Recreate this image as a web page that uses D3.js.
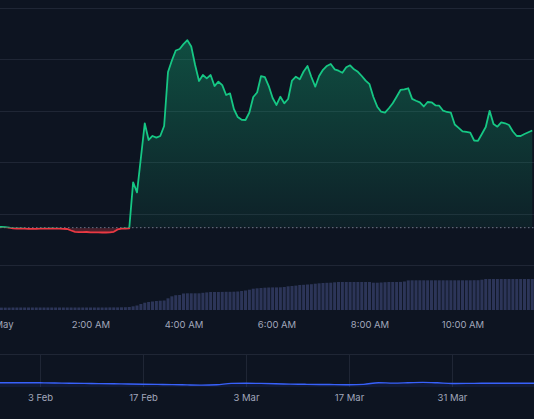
<!DOCTYPE html>
<html>
<head>
<meta charset="utf-8">
<script src="https://cdn.jsdelivr.net/npm/d3@7"></script>
<style>
  html, body { margin: 0; padding: 0; background: #0d1421; }
  svg { display: block; }
</style>
</head>
<body>
<svg id="chart"></svg>
<script>
// chart data, 5 minute steps from midnight
const startTime = new Date(2025, 4, 1, 0, 0);
const stepMinutes = 5;
const baselinePrice = 0.726;

const prices = [
  0.739, 0.739, 0.735, 0.728, 0.714, 0.710, 0.710, 0.708, 0.704, 0.704,
  0.704, 0.706, 0.708, 0.708, 0.710, 0.708, 0.708, 0.704, 0.700, 0.671,
  0.646, 0.638, 0.638, 0.642, 0.636, 0.634, 0.634, 0.632, 0.632, 0.634,
  0.646, 0.691, 0.708, 0.710, 0.712, 1.609, 1.414, 2.082, 2.757, 2.432,
  2.510, 2.477, 2.510, 2.704, 3.755, 3.979, 4.173, 4.202, 4.296, 4.374,
  4.251, 3.891, 3.580, 3.696, 3.632, 3.696, 3.482, 3.566, 3.498, 3.307,
  3.340, 3.035, 2.879, 2.825, 2.821, 2.967, 3.268, 3.356, 3.673, 3.654,
  3.482, 3.249, 3.113, 3.274, 3.146, 3.230, 3.589, 3.663, 3.613, 3.765,
  3.872, 3.658, 3.469, 3.677, 3.798, 3.872, 3.911, 3.807, 3.780, 3.741,
  3.846, 3.885, 3.807, 3.759, 3.677, 3.586, 3.518, 3.268, 3.080, 2.982,
  2.963, 3.049, 3.146, 3.274, 3.405, 3.418, 3.438, 3.233, 3.196, 3.165,
  3.084, 3.171, 3.165, 3.107, 3.099, 3.002, 2.977, 2.963, 2.733, 2.669,
  2.601, 2.588, 2.574, 2.422, 2.416, 2.549, 2.685, 3.000, 2.743, 2.691,
  2.776, 2.757, 2.724, 2.597, 2.510, 2.510, 2.549, 2.582, 2.617
];

const volumes = [
  24, 24, 24, 24, 25, 25, 25, 25, 25, 25,
  25, 25, 25, 25, 25, 25, 25, 25, 25, 25,
  25, 25, 25, 25, 25, 25, 25, 25, 25, 26,
  26, 26, 27, 28, 30, 37, 45, 60, 73, 80,
  85, 90, 93, 95, 117, 137, 148, 150, 165, 167,
  167, 167, 167, 172, 176, 180, 180, 180, 181, 182,
  182, 183, 185, 190, 195, 203, 213, 217, 220, 223,
  225, 226, 226, 227, 230, 237, 240, 244, 250, 252,
  255, 258, 263, 267, 270, 272, 273, 277, 280, 280,
  280, 280, 280, 280, 280, 280, 280, 273, 273, 275,
  278, 280, 280, 280, 281, 285, 296, 297, 297, 297,
  297, 297, 297, 297, 297, 297, 297, 297, 297, 297,
  297, 297, 297, 298, 298, 303, 310, 310, 310, 310,
  310, 310, 310, 310, 310, 310, 310, 310, 310
];

const priceTicks = [0, 1, 2, 3, 4, 5];
const timeTickHours = [0, 2, 4, 6, 8, 10];

// navigator, one point every 2 days
const navStart = new Date(2025, 0, 28);
const navStepDays = 2;
const navValues = [
  4.3, 4.3, 4.3, 4.2, 4.0, 3.8, 3.6, 3.4, 3.2, 3.0,
  2.8, 2.6, 2.4, 2.1, 1.9, 2.2, 3.6, 3.7, 3.6, 3.3,
  2.9, 2.7, 2.5, 2.4, 2.3, 2.6, 4.3, 3.9, 4.2, 4.6,
  4.2, 3.5, 3.6, 3.7, 3.8, 3.8, 3.7, 3.7
];
const navTickDates = ["2025-02-03", "2025-02-17", "2025-03-03", "2025-03-17", "2025-03-31"];

// -------------------------------------------------------------------------------------------------------------
const W = 534, H = 419;
const green = "#16c784", red = "#ea3943", navBlue = "#3861fb";
const gridColor = "#1f2635", textColor = "#a1a7bb";

const svg = d3.select("#chart").attr("width", W).attr("height", H);

const series = prices.map((p, i) => ({
  t: new Date(startTime.getTime() + i * stepMinutes * 60000),
  p: p,
  v: volumes[i]
}));

const x = d3.scaleTime()
  .domain([startTime, d3.timeHour.offset(startTime, 10)])
  .range([-2.5, 462.5]);

const y = d3.scaleLinear().domain([0, 5]).range([265, 8]);
const yVol = d3.scaleLinear().domain([0, 400]).range([310, 270]);
const baseY = y(baselinePrice);

// grid
svg.append("g").selectAll("line")
  .data(priceTicks)
  .enter().append("line")
  .attr("x1", 0).attr("x2", W)
  .attr("y1", d => Math.round(y(d)) + 0.5).attr("y2", d => Math.round(y(d)) + 0.5)
  .attr("stroke", gridColor);

// volume bars
svg.append("g").selectAll("rect")
  .data(series)
  .enter().append("rect")
  .attr("x", d => x(d.t) - 1.5)
  .attr("y", d => yVol(d.v))
  .attr("width", 3)
  .attr("height", d => yVol(0) - yVol(d.v))
  .attr("fill", "#2c3558");

// gradients and clips for baseline series
const defs = svg.append("defs");
const gUp = defs.append("linearGradient").attr("id", "fillUp")
  .attr("gradientUnits", "userSpaceOnUse")
  .attr("x1", 0).attr("x2", 0).attr("y1", y(d3.max(prices))).attr("y2", baseY);
gUp.append("stop").attr("offset", 0).attr("stop-color", green).attr("stop-opacity", 0.32);
gUp.append("stop").attr("offset", 1).attr("stop-color", green).attr("stop-opacity", 0.07);

const gDown = defs.append("linearGradient").attr("id", "fillDown")
  .attr("gradientUnits", "userSpaceOnUse")
  .attr("x1", 0).attr("x2", 0).attr("y1", baseY).attr("y2", y(d3.min(prices)));
gDown.append("stop").attr("offset", 0).attr("stop-color", red).attr("stop-opacity", 0.2);
gDown.append("stop").attr("offset", 1).attr("stop-color", red).attr("stop-opacity", 0.35);

defs.append("clipPath").attr("id", "clipUp")
  .append("rect").attr("x", -10).attr("y", 0).attr("width", W + 20).attr("height", baseY);
defs.append("clipPath").attr("id", "clipDown")
  .append("rect").attr("x", -10).attr("y", baseY).attr("width", W + 20).attr("height", 310 - baseY);

const area = d3.area().x(d => x(d.t)).y0(baseY).y1(d => y(d.p));
const line = d3.line().x(d => x(d.t)).y(d => y(d.p));

// dotted base line
svg.append("line")
  .attr("x1", 0).attr("x2", W)
  .attr("y1", baseY).attr("y2", baseY)
  .attr("stroke", "#6b768c")
  .attr("stroke-width", 1)
  .attr("stroke-dasharray", "1.5,2.5");

[["clipUp", "url(#fillUp)", green], ["clipDown", "url(#fillDown)", red]].forEach(([clip, fill, col]) => {
  const g = svg.append("g").attr("clip-path", `url(#${clip})`);
  g.append("path").datum(series).attr("d", area).attr("fill", fill);
  g.append("path").datum(series).attr("d", line)
    .attr("fill", "none").attr("stroke", col).attr("stroke-width", 1.8)
    .attr("stroke-linejoin", "round");
});

// time axis
const tickFmt = d => d.getHours() === 0 ? d3.timeFormat("%b")(d) : d3.timeFormat("%-I:%M %p")(d);
const xAxis = svg.append("g")
  .attr("transform", "translate(0,318)")
  .call(d3.axisBottom(x)
    .tickValues(timeTickHours.map(h => d3.timeHour.offset(startTime, h)))
    .tickFormat(tickFmt)
    .tickSize(0));
xAxis.select(".domain").remove();
xAxis.selectAll("text")
  .attr("fill", textColor)
  .attr("font-family", "Inter, 'Liberation Sans', sans-serif")
  .attr("font-size", "9.5px");
// first label sits a little to the right, partly off the edge
xAxis.selectAll("text").filter(d => d.getHours() === 0).attr("dx", 6);

// navigator
const navData = navValues.map((v, i) => ({ t: d3.timeDay.offset(navStart, i * navStepDays), v: v }));
const xNav = d3.scaleTime()
  .domain([new Date(2025, 1, 3), new Date(2025, 2, 31)])
  .range([40, 452]);
const yNav = d3.scaleLinear().domain([0, 32]).range([387, 355]);
const navTicks = navTickDates.map(s => d3.timeParse("%Y-%m-%d")(s));

svg.append("line")
  .attr("x1", 0).attr("x2", W).attr("y1", 354.5).attr("y2", 354.5)
  .attr("stroke", gridColor);
svg.append("g").selectAll("line")
  .data(navTicks)
  .enter().append("line")
  .attr("x1", d => Math.round(xNav(d)) + 0.5).attr("x2", d => Math.round(xNav(d)) + 0.5)
  .attr("y1", 355).attr("y2", 387)
  .attr("stroke", gridColor);

svg.append("path").datum(navData)
  .attr("d", d3.area().x(d => xNav(d.t)).y0(yNav(0)).y1(d => yNav(d.v)).curve(d3.curveMonotoneX))
  .attr("fill", navBlue).attr("fill-opacity", 0.1);
svg.append("path").datum(navData)
  .attr("d", d3.line().x(d => xNav(d.t)).y(d => yNav(d.v)).curve(d3.curveMonotoneX))
  .attr("fill", "none").attr("stroke", navBlue).attr("stroke-width", 1.4);

const navAxis = svg.append("g")
  .attr("transform", "translate(0,391)")
  .call(d3.axisBottom(xNav)
    .tickValues(navTicks)
    .tickFormat(d3.timeFormat("%-d %b"))
    .tickSize(0));
navAxis.select(".domain").remove();
navAxis.selectAll("text")
  .attr("fill", textColor)
  .attr("font-family", "Inter, 'Liberation Sans', sans-serif")
  .attr("font-size", "9.5px");
</script>
</body>
</html>
